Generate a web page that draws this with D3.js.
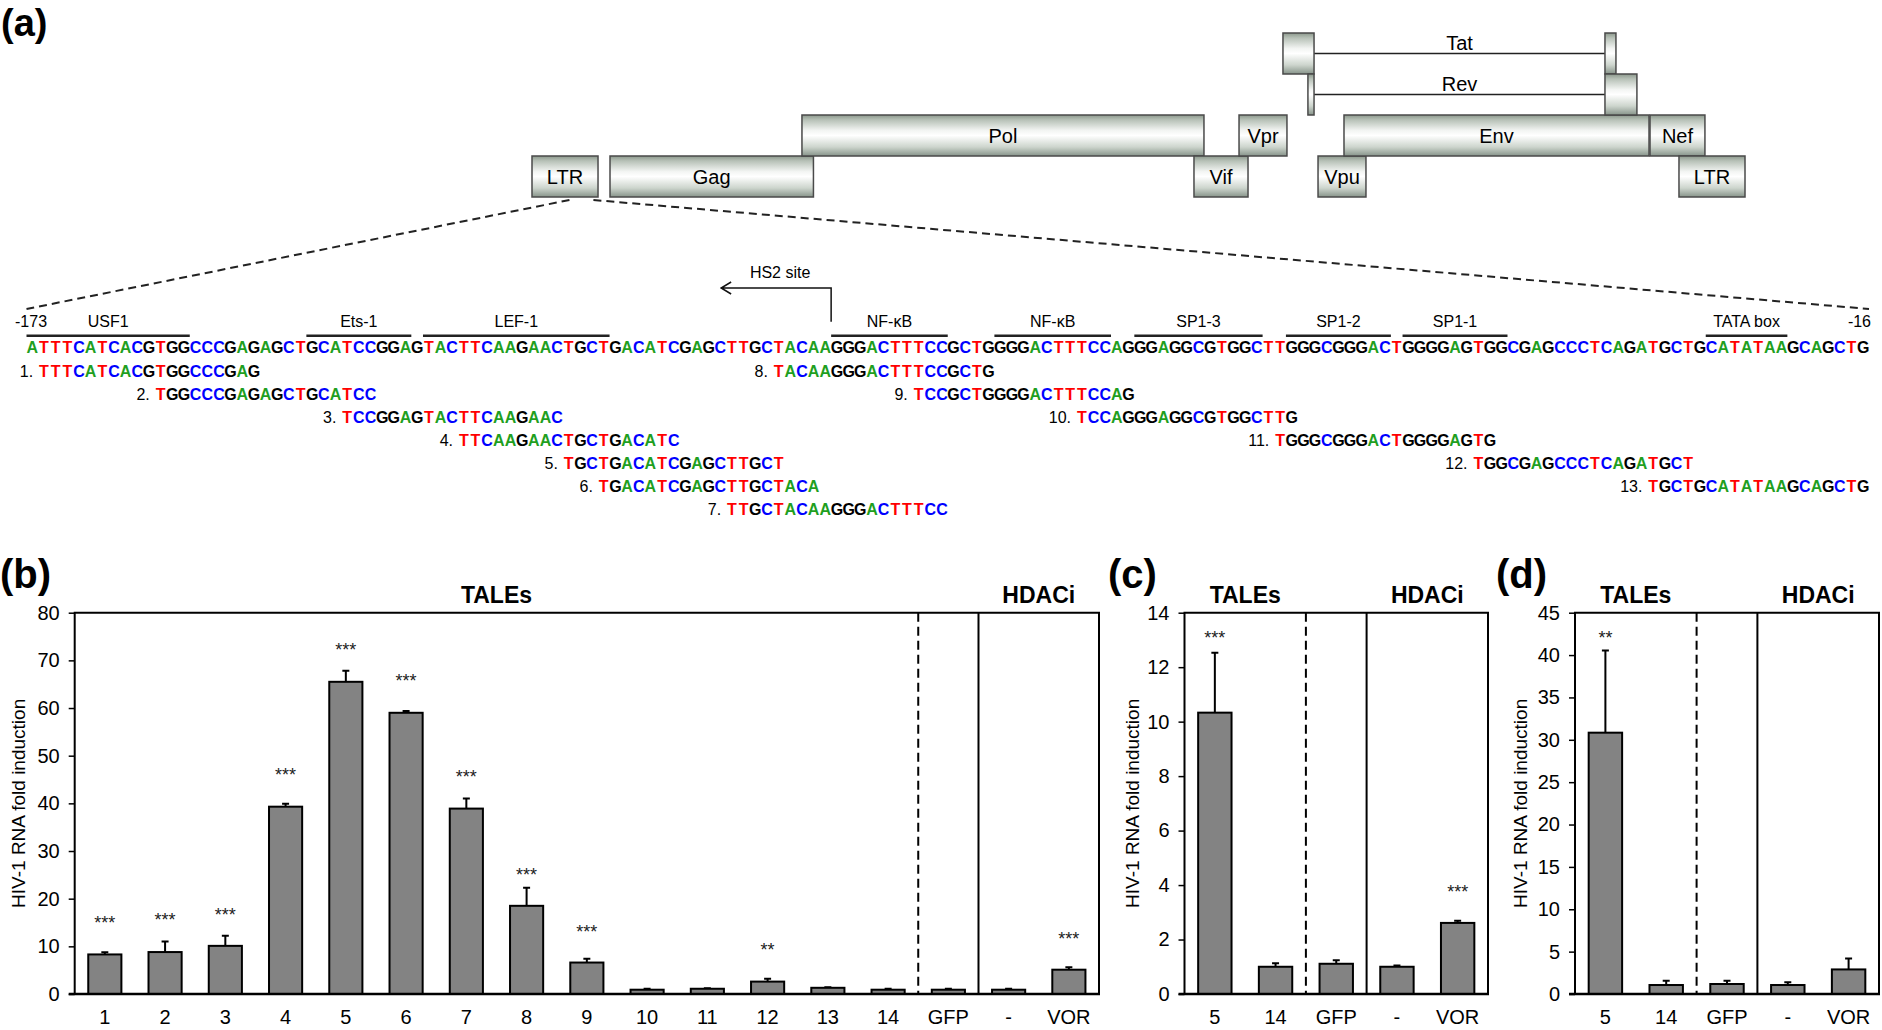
<!DOCTYPE html>
<html>
<head>
<meta charset="utf-8">
<script src="https://cdn.jsdelivr.net/npm/d3@7"></script>
<style>
  html, body { margin: 0; padding: 0; background: #fff; }
  svg text { font-family: "Liberation Sans", Arial, sans-serif; }
</style>
</head>
<body>
<svg id="fig" width="1882" height="1030"></svg>
<script>
// ===== genome map (schematic positions, nt-like units) =====
const geneNames = ['LTR', 'Gag', 'Pol', 'Vif', 'Vpr', 'Vpu', 'Env', 'Nef', 'LTR'];
const geneStart = [0, 625, 2163, 5304, 5665, 6298, 6506, 8958, 9190];
const geneEnd   = [529, 2255, 5384, 5737, 6049, 6682, 8950, 9398, 9719];
const geneRow   = [3, 3, 2, 3, 2, 3, 2, 2, 3];
const splicedNames = ['Tat', 'Rev'];
const splicedExon1 = [[6017, 6266], [6217, 6266]];
const splicedExon2 = [[8597, 8685], [8597, 8853]];
const splicedRow   = [0, 1];

// ===== LTR sequence (-173 .. -16) =====
const ltrSeq = 'ATTTCATCACGTGGCCCGAGAGCTGCATCCGGAGTACTTCAAGAACTGCTGACATCGAGCTTGCTACAAGGGACTTTCCGCTGGGGACTTTCCAGGGAGGCGTGGCTTGGGCGGGACTGGGGAGTGGCGAGCCCTCAGATGCTGCATATAAGCAGCTG';
const siteNames = ['USF1', 'Ets-1', 'LEF-1', 'NF-κB', 'NF-κB', 'SP1-3', 'SP1-2', 'SP1-1', 'TATA box'];
const siteFrom  = [0, 24, 34, 69, 83, 95, 108, 118, 144];
const siteTo    = [13, 32, 49, 78, 92, 105, 116, 126, 150];
const hs2Index = 69;
const taleSeqs = [
  'TTTCATCACGTGGCCCGAG', 'TGGCCCGAGAGCTGCATCC', 'TCCGGAGTACTTCAAGAAC',
  'TTCAAGAACTGCTGACATC', 'TGCTGACATCGAGCTTGCT', 'TGACATCGAGCTTGCTACA',
  'TTGCTACAAGGGACTTTCC', 'TACAAGGGACTTTCCGCTG', 'TCCGCTGGGGACTTTCCAG',
  'TCCAGGGAGGCGTGGCTTG', 'TGGGCGGGACTGGGGAGTG', 'TGGCGAGCCCTCAGATGCT',
  'TGCTGCATATAAGCAGCTG'
];
const taleFrom = [1, 11, 27, 37, 46, 49, 60, 64, 76, 90, 107, 124, 139];
const taleRow  = [0, 1, 2, 3, 4, 5, 6, 0, 1, 2, 3, 4, 5];

// ===== bar chart data =====
const catsB  = ['1', '2', '3', '4', '5', '6', '7', '8', '9', '10', '11', '12', '13', '14', 'GFP', '-', 'VOR'];
const meanB  = [8.3, 8.8, 10.1, 39.3, 65.5, 59.0, 38.9, 18.5, 6.6, 0.9, 1.1, 2.6, 1.3, 0.9, 0.9, 0.9, 5.1];
const errB   = [0.45, 2.2, 2.1, 0.6, 2.3, 0.4, 2.1, 3.8, 0.8, 0.2, 0.1, 0.6, 0.1, 0.2, 0.2, 0.2, 0.5];
const sigB   = ['***', '***', '***', '***', '***', '***', '***', '***', '***', '', '', '**', '', '', '', '', '***'];
const sigLvB = [15.7, 16.4, 17.5, 46.8, 73.0, 66.5, 46.4, 25.9, 13.9, 0, 0, 10.1, 0, 0, 0, 0, 12.4];

const catsC  = ['5', '14', 'GFP', '-', 'VOR'];
const meanC  = [10.33, 1.0, 1.11, 1.0, 2.61];
const errC   = [2.2, 0.13, 0.13, 0.05, 0.08];
const sigC   = ['***', '', '', '', '***'];
const sigLvC = [13.2, 0, 0, 0, 3.9];

const catsD  = ['5', '14', 'GFP', '-', 'VOR'];
const meanD  = [30.84, 1.06, 1.18, 1.06, 2.9];
const errD   = [9.7, 0.5, 0.39, 0.32, 1.3];
const sigD   = ['**', '', '', '', ''];
const sigLvD = [42.5, 0, 0, 0, 0];

const ntColor = { A: '#1f9f1f', C: '#0000ff', G: '#000000', T: '#ff0000' };

const svg = d3.select('#fig');

// gradient for gene boxes
const grad = svg.append('defs').append('linearGradient')
  .attr('id', 'boxGrad').attr('x1', 0).attr('y1', 0).attr('x2', 0).attr('y2', 1);
[[0, '#8c988c'], [0.12, '#b7c1b7'], [0.38, '#f3f5f3'], [0.5, '#ffffff'], [0.78, '#cdd5cd'], [1, '#87948a']]
  .forEach(([o, c]) => grad.append('stop').attr('offset', o).attr('stop-color', c));

// ===== (a) genome map =====
svg.append('text').attr('x', 1).attr('y', 36)
  .attr('font-size', 38).attr('font-weight', 'bold').text('(a)');

const gx = d3.scaleLinear().domain([0, 9719]).range([532, 1745]);
const gy = d3.scaleBand().domain([0, 1, 2, 3]).range([33, 197]);

function geneBox(x0, x1, row) {
  svg.append('rect')
    .attr('x', gx(x0)).attr('y', gy(row))
    .attr('width', gx(x1) - gx(x0)).attr('height', gy.bandwidth())
    .attr('fill', 'url(#boxGrad)').attr('stroke', '#4a4a4a').attr('stroke-width', 1.5);
}

geneNames.forEach((name, i) => {
  geneBox(geneStart[i], geneEnd[i], geneRow[i]);
  svg.append('text')
    .attr('x', (gx(geneStart[i]) + gx(geneEnd[i])) / 2)
    .attr('y', gy(geneRow[i]) + gy.bandwidth() / 2 + 7)
    .attr('text-anchor', 'middle').attr('font-size', 20).text(name);
});

splicedNames.forEach((name, i) => {
  const e1 = splicedExon1[i], e2 = splicedExon2[i], row = splicedRow[i];
  const cy = gy(row) + gy.bandwidth() / 2;
  svg.append('line')
    .attr('x1', gx(e1[1])).attr('x2', gx(e2[0]))
    .attr('y1', cy).attr('y2', cy)
    .attr('stroke', '#222').attr('stroke-width', 1.3);
  geneBox(e1[0], e1[1], row);
  geneBox(e2[0], e2[1], row);
  svg.append('text')
    .attr('x', (gx(e1[1]) + gx(e2[0])) / 2).attr('y', cy - 4)
    .attr('text-anchor', 'middle').attr('font-size', 20).text(name);
});

// ===== LTR sequence =====
const xs = d3.scaleLinear().domain([0, ltrSeq.length]).range([26.5, 1869]);
const seqBase = 352.7;
const rowY = d3.scaleLinear().domain([0, 1]).range([376.7, 399.7]);

// zoom lines from 5' LTR to the sequence
const ltrBottom = gy(3) + gy.bandwidth() + 3;
[[300, 0], [492, ltrSeq.length]].forEach(([g, s]) => {
  svg.append('line')
    .attr('x1', gx(g)).attr('y1', ltrBottom)
    .attr('x2', xs(s)).attr('y2', 309)
    .attr('stroke', '#222').attr('stroke-width', 2).attr('stroke-dasharray', '8,5');
});

function drawSeq(str, from, yBase) {
  svg.append('g').selectAll('text')
    .data(str.split(''))
    .join('text')
    .attr('x', (d, i) => xs(from + i + 0.5))
    .attr('y', yBase)
    .attr('text-anchor', 'middle')
    .attr('font-size', 16).attr('font-weight', 'bold')
    .attr('fill', d => ntColor[d])
    .text(d => d);
}

drawSeq(ltrSeq, 0, seqBase);

svg.append('text').attr('x', 15).attr('y', 326.7).attr('font-size', 16).text('-173');
svg.append('text').attr('x', 1871).attr('y', 326.7).attr('font-size', 16)
  .attr('text-anchor', 'end').text('-16');

siteNames.forEach((name, i) => {
  svg.append('line')
    .attr('x1', xs(siteFrom[i])).attr('x2', xs(siteTo[i] + 1))
    .attr('y1', 335.7).attr('y2', 335.7)
    .attr('stroke', '#222').attr('stroke-width', 2.5);
  svg.append('text')
    .attr('x', xs((siteFrom[i] + siteTo[i] + 1) / 2)).attr('y', 326.7)
    .attr('text-anchor', 'middle').attr('font-size', 16).text(name);
});

// HS2 site arrow
const hx = xs(hs2Index);
svg.append('path')
  .attr('d', `M${hx},321.7V288H${hx - 110}M${hx - 100},282L${hx - 110},288L${hx - 100},294`)
  .attr('fill', 'none').attr('stroke', '#111').attr('stroke-width', 1.5);
svg.append('text').attr('x', hx - 51).attr('y', 278)
  .attr('text-anchor', 'middle').attr('font-size', 16).text('HS2 site');

taleSeqs.forEach((s, i) => {
  const yb = rowY(taleRow[i]);
  svg.append('text')
    .attr('x', xs(taleFrom[i]) - 5).attr('y', yb)
    .attr('text-anchor', 'end').attr('font-size', 16).text(`${i + 1}.`);
  drawSeq(s, taleFrom[i], yb);
});

// ===== bar panels =====
const plotTop = 612.7, plotBottom = 994;

function drawPanel(cfg) {
  const g = svg.append('g');
  const x = d3.scaleBand().domain(cfg.cats)
    .range([cfg.left, cfg.right]).paddingInner(0.45).paddingOuter(0.225);
  const step = x.step();
  const slot = c => x(c) - step * 0.225;
  const y = d3.scaleLinear().domain([0, cfg.yMax]).range([plotBottom, plotTop]);

  // panel letter and group headers
  g.append('text').attr('x', cfg.letterX).attr('y', 588)
    .attr('font-size', 40).attr('font-weight', 'bold').text(cfg.letter);
  const taleEnd = slot(cfg.cats[cfg.nTale - 1]) + step;
  g.append('text').attr('x', (cfg.left + taleEnd) / 2).attr('y', 603)
    .attr('text-anchor', 'middle').attr('font-size', 23).attr('font-weight', 'bold').text('TALEs');
  const hdStart = slot(cfg.cats[cfg.nTale + 1]);
  g.append('text').attr('x', (hdStart + cfg.right) / 2).attr('y', 603)
    .attr('text-anchor', 'middle').attr('font-size', 23).attr('font-weight', 'bold').text('HDACi');

  // y axis
  g.append('g')
    .attr('transform', `translate(${cfg.left},0)`)
    .call(d3.axisLeft(y).tickValues(d3.range(0, cfg.yMax + 0.001, cfg.yStep)).tickSize(6).tickPadding(9))
    .call(a => a.select('.domain').remove())
    .call(a => a.selectAll('.tick line').attr('stroke', '#000').attr('stroke-width', 1.5))
    .call(a => a.selectAll('text')
      .attr('font-family', '"Liberation Sans", Arial, sans-serif')
      .attr('font-size', 20).attr('fill', '#000'))
    .attr('font-family', null).attr('font-size', null);

  g.append('text')
    .attr('transform', `translate(${cfg.yLabelX},${(plotTop + plotBottom) / 2}) rotate(-90)`)
    .attr('text-anchor', 'middle').attr('dominant-baseline', 'central')
    .attr('font-size', 19).text('HIV-1 RNA fold induction');

  // separators
  const dashX = slot(cfg.cats[cfg.nTale]);
  g.append('line').attr('x1', dashX).attr('x2', dashX).attr('y1', plotTop).attr('y2', plotBottom)
    .attr('stroke', '#000').attr('stroke-width', 2).attr('stroke-dasharray', '9,5');
  const solidX = slot(cfg.cats[cfg.nTale + 1]);
  g.append('line').attr('x1', solidX).attr('x2', solidX).attr('y1', plotTop).attr('y2', plotBottom)
    .attr('stroke', '#000').attr('stroke-width', 2);

  // error bars
  g.append('g').selectAll('path')
    .data(cfg.cats)
    .join('path')
    .attr('d', (c, i) => {
      const cx = x(c) + x.bandwidth() / 2;
      const t = y(cfg.means[i] + cfg.errs[i]);
      return `M${cx},${y(cfg.means[i])}V${t}M${cx - 3.5},${t}H${cx + 3.5}`;
    })
    .attr('fill', 'none').attr('stroke', '#000').attr('stroke-width', 2);

  // bars
  g.append('g').selectAll('rect')
    .data(cfg.cats)
    .join('rect')
    .attr('x', c => x(c))
    .attr('y', (c, i) => y(cfg.means[i]))
    .attr('width', x.bandwidth())
    .attr('height', (c, i) => plotBottom - y(cfg.means[i]))
    .attr('fill', '#838383').attr('stroke', '#000').attr('stroke-width', 2);

  // significance
  g.append('g').selectAll('text')
    .data(cfg.cats)
    .join('text')
    .attr('x', c => x(c) + x.bandwidth() / 2)
    .attr('y', (c, i) => y(cfg.sigLv[i]) + 10)
    .attr('text-anchor', 'middle').attr('font-size', 18).attr('fill', '#222')
    .text((c, i) => cfg.sig[i]);

  // frame
  g.append('path')
    .attr('d', `M${cfg.left},${plotBottom}V${plotTop}H${cfg.right}V${plotBottom}`)
    .attr('fill', 'none').attr('stroke', '#000').attr('stroke-width', 2);
  g.append('line').attr('x1', cfg.left - 6).attr('x2', cfg.right + 1)
    .attr('y1', plotBottom).attr('y2', plotBottom)
    .attr('stroke', '#000').attr('stroke-width', 2.5);

  // x labels
  g.append('g').selectAll('text')
    .data(cfg.cats)
    .join('text')
    .attr('x', c => x(c) + x.bandwidth() / 2)
    .attr('y', 1024)
    .attr('text-anchor', 'middle').attr('font-size', 20)
    .text(c => c);
}

drawPanel({ letter: '(b)', letterX: 0, left: 74.7, right: 1099, yMax: 80, yStep: 10, yLabelX: 18,
  cats: catsB, means: meanB, errs: errB, sig: sigB, sigLv: sigLvB, nTale: 14 });
drawPanel({ letter: '(c)', letterX: 1108, left: 1184.5, right: 1488, yMax: 14, yStep: 2, yLabelX: 1132,
  cats: catsC, means: meanC, errs: errC, sig: sigC, sigLv: sigLvC, nTale: 2 });
drawPanel({ letter: '(d)', letterX: 1496, left: 1575, right: 1879, yMax: 45, yStep: 5, yLabelX: 1520,
  cats: catsD, means: meanD, errs: errD, sig: sigD, sigLv: sigLvD, nTale: 2 });
</script>
</body>
</html>
